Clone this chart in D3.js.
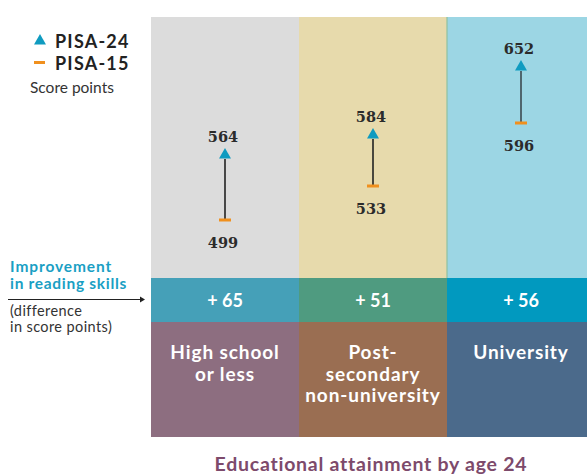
<!DOCTYPE html>
<html>
<head>
<meta charset="utf-8">
<script src="https://cdn.jsdelivr.net/npm/d3@7"></script>
<style>
  body { margin: 0; background: #fff; }
  svg { display: block; }
</style>
</head>
<body>
<div id="chart"></div>
<script>
// data
const categories = ["High school or less", "Post-secondary non-university", "University"];
const categoryLines = [["High school", "or less"], ["Post-", "secondary", "non-university"], ["University"]];
const pisa15 = [499, 533, 596];
const pisa24 = [564, 584, 652];

const topColors = ["#dcdcdc", "#e7daac", "#9cd6e4"];
const midColors = ["#45a0b8", "#4f9b80", "#0199bf"];
const botColors = ["#8d6e80", "#9a6e52", "#4b6a8b"];

const svg = d3.select("#chart")
    .append("svg")
    .attr("width", 587)
    .attr("height", 474);

const x = d3.scaleBand()
    .domain(categories)
    .range([151, 595])
    .padding(0);

// one pixel per score point
const y = d3.scaleLinear()
    .domain([441, 702])
    .range([278, 17]);

const rows = categories.map((c, i) => ({
    cat: c, lines: categoryLines[i], p15: pisa15[i], p24: pisa24[i], i: i
}));

// background bands
svg.append("g").selectAll("rect").data(rows).join("rect")
    .attr("x", d => x(d.cat)).attr("y", 17)
    .attr("width", x.bandwidth()).attr("height", 261)
    .attr("fill", d => topColors[d.i]);
svg.append("line").attr("x1", x(categories[2])).attr("x2", x(categories[2]))
    .attr("y1", 17).attr("y2", 278).attr("stroke", "#8fc2a0").attr("stroke-width", 1.2);
svg.append("g").selectAll("rect").data(rows).join("rect")
    .attr("x", d => x(d.cat)).attr("y", 278)
    .attr("width", x.bandwidth()).attr("height", 44)
    .attr("fill", d => midColors[d.i]);
svg.append("g").selectAll("rect").data(rows).join("rect")
    .attr("x", d => x(d.cat)).attr("y", 322)
    .attr("width", x.bandwidth()).attr("height", 115)
    .attr("fill", d => botColors[d.i]);

const cx = d => x(d.cat) + x.bandwidth() / 2;
const tri = d3.symbol(d3.symbolTriangle, 62);

// connecting lines
svg.append("g").selectAll("line").data(rows).join("line")
    .attr("x1", cx).attr("x2", cx)
    .attr("y1", d => y(d.p15)).attr("y2", d => y(d.p24) + 4)
    .attr("stroke", (d, i) => i == 2 ? "#3d4a50" : "#222")
    .attr("stroke-width", 1.6);

// PISA-15 dashes
svg.append("g").selectAll("rect").data(rows).join("rect")
    .attr("x", d => cx(d) - 6).attr("y", d => y(d.p15) - 1.5)
    .attr("width", 12).attr("height", 3)
    .attr("fill", "#f0901e");

// PISA-24 triangles
svg.append("g").selectAll("path").data(rows).join("path")
    .attr("d", tri)
    .attr("transform", d => `translate(${cx(d)},${y(d.p24)})`)
    .attr("fill", "#0f9bc0");

// value labels
svg.append("g").selectAll("text").data(rows).join("text")
    .attr("x", d => cx(d) - 2).attr("y", d => y(d.p24) - 19)
    .attr("text-anchor", "middle").attr("dominant-baseline", "central")
    .style("font-family", "DejaVu Serif").style("font-weight", "bold").style("font-size", "14.5px")
    .attr("fill", "#2b2b2b")
    .text(d => d.p24);
svg.append("g").selectAll("text").data(rows).join("text")
    .attr("x", d => cx(d) - 2).attr("y", d => y(d.p15) + 22)
    .attr("text-anchor", "middle").attr("dominant-baseline", "central")
    .style("font-family", "DejaVu Serif").style("font-weight", "bold").style("font-size", "14.5px")
    .attr("fill", "#2b2b2b")
    .text(d => d.p15);

// differences
svg.append("g").selectAll("text").data(rows).join("text")
    .attr("x", cx).attr("y", 300)
    .attr("text-anchor", "middle").attr("dominant-baseline", "central")
    .style("font-family", "Lato").style("font-weight", "bold").style("font-size", "18px")
    .attr("fill", "#fff")
    .text(d => "+ " + (d.p24 - d.p15));

// category labels
const catText = svg.append("g").selectAll("text").data(rows).join("text")
    .attr("text-anchor", "middle")
    .style("font-family", "Lato").style("font-weight", "bold").style("font-size", "19px")
    .style("letter-spacing", "0.9px")
    .attr("fill", "#fff");
catText.selectAll("tspan").data(d => d.lines.map((l, k) => ({ l: l, k: k, d: d }))).join("tspan")
    .attr("x", t => cx(t.d)).attr("y", t => 359 + t.k * 21.5)
    .text(t => t.l);

// legend
svg.append("path").attr("d", tri).attr("transform", "translate(40,41)").attr("fill", "#0f9bc0");
svg.append("rect").attr("x", 34).attr("y", 61).attr("width", 11).attr("height", 3).attr("fill", "#f0901e");
svg.append("text").attr("x", 55).attr("y", 41).attr("dominant-baseline", "central").text("PISA-24")
    .style("font-family", "Lato").style("font-weight", "bold").style("font-size", "18px")
    .style("letter-spacing", "1.2px").attr("fill", "#222");
svg.append("text").attr("x", 55).attr("y", 63).attr("dominant-baseline", "central").text("PISA-15")
    .style("font-family", "Lato").style("font-weight", "bold").style("font-size", "18px")
    .style("letter-spacing", "1.2px").attr("fill", "#222");
svg.append("text").attr("x", 30).attr("y", 87).attr("dominant-baseline", "central").text("Score points")
    .style("font-family", "Lato").style("font-size", "15.5px").attr("fill", "#333");

// left labels
svg.append("text").attr("x", 10).attr("y", 272).text("Improvement")
    .style("font-family", "Lato").style("font-weight", "bold").style("font-size", "15.5px")
    .style("letter-spacing", "0.9px").attr("fill", "#1a9fc4");
svg.append("text").attr("x", 10).attr("y", 289).text("in reading skills")
    .style("font-family", "Lato").style("font-weight", "bold").style("font-size", "15.5px")
    .style("letter-spacing", "0.7px").attr("fill", "#1a9fc4");
svg.append("line").attr("x1", 8).attr("x2", 140).attr("y1", 299.5).attr("y2", 299.5)
    .attr("stroke", "#222").attr("stroke-width", 1.2);
svg.append("path").attr("d", "M140,296.5 L145,299.5 L140,302.5 Z").attr("fill", "#222");
svg.append("text").attr("x", 10).attr("y", 316).text("(difference")
    .style("font-family", "Lato").style("font-size", "14.5px")
    .style("letter-spacing", "0.4px").attr("fill", "#333");
svg.append("text").attr("x", 10).attr("y", 332).text("in score points)")
    .style("font-family", "Lato").style("font-size", "14.5px")
    .style("letter-spacing", "0.4px").attr("fill", "#333");

// title
svg.append("text").attr("x", 371).attr("y", 463)
    .attr("text-anchor", "middle").attr("dominant-baseline", "central")
    .style("font-family", "Lato").style("font-weight", "bold").style("font-size", "19.5px")
    .style("letter-spacing", "0.75px")
    .attr("fill", "#7d4a6b")
    .text("Educational attainment by age 24");
</script>
</body>
</html>
